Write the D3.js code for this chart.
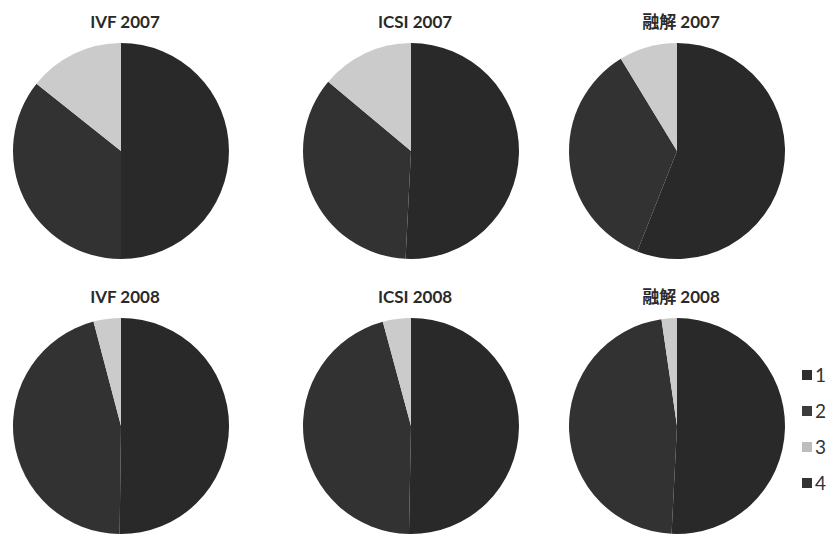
<!DOCTYPE html>
<html>
<head>
<meta charset="utf-8">
<script src="https://cdn.jsdelivr.net/npm/d3@7"></script>
<style>
  html, body { margin: 0; padding: 0; background: #fff; }
  svg { display: block; }
</style>
</head>
<body>
<svg id="chart" width="836" height="535"></svg>
<script>
// ---- data ----
const categories = ["1", "2", "3", "4"];
const titles = ["IVF 2007", "ICSI 2007", "融解 2007", "IVF 2008", "ICSI 2008", "融解 2008"];
const ivf2007  = [50.0, 35.7, 14.3, 0];
const icsi2007 = [50.8, 35.3, 13.9, 0];
const yu2007   = [56.0, 35.3, 8.7, 0];
const ivf2008  = [50.2, 45.7, 4.1, 0];
const icsi2008 = [50.3, 45.5, 4.2, 0];
const yu2008   = [50.8, 46.9, 2.3, 0];
const seriesValues = [ivf2007, icsi2007, yu2007, ivf2008, icsi2008, yu2008];

// ---- layout ----
const colors = ["#292929", "#323232", "#cbcbcb", "#2c2c2c"];
const legendColors = ["#2e2e2e", "#3c3c3c", "#bdbdbd", "#333333"];
const centersX = [121, 411, 677];
const centersY = [151, 426];
const radius = 108;

const svg = d3.select("#chart");
const pie = d3.pie().sort(null).value(d => d);
const arc = d3.arc().innerRadius(0).outerRadius(radius);
const color = d3.scaleOrdinal().domain(categories).range(colors);

seriesValues.forEach((vals, i) => {
  const cx = centersX[i % 3], cy = centersY[Math.floor(i / 3)];
  const g = svg.append("g").attr("transform", `translate(${cx},${cy})`);
  g.selectAll("path")
    .data(pie(vals))
    .join("path")
    .attr("d", arc)
    .attr("fill", (d, j) => color(categories[j]));
  svg.append("text")
    .attr("x", cx + 4)
    .attr("y", cy - radius - 15)
    .attr("text-anchor", "middle")
    .attr("font-family", "Lato, 'Noto Sans CJK JP', sans-serif")
    .attr("font-weight", "bold")
    .attr("font-size", 17)
    .attr("fill", "#2a2a2a")
    .text(titles[i]);
});

// legend
const legendY = d3.scalePoint().domain(categories).range([375, 483]);
const lg = svg.append("g");
categories.forEach((c, j) => {
  const y = legendY(c);
  lg.append("rect")
    .attr("x", 802).attr("y", y - 5)
    .attr("width", 10).attr("height", 10)
    .attr("fill", legendColors[j]);
  lg.append("text")
    .attr("x", 815).attr("y", y + 7)
    .attr("font-family", "Lato, sans-serif")
    .attr("font-size", 19)
    .attr("fill", "#333")
    .text(c);
});
</script>
</body>
</html>
